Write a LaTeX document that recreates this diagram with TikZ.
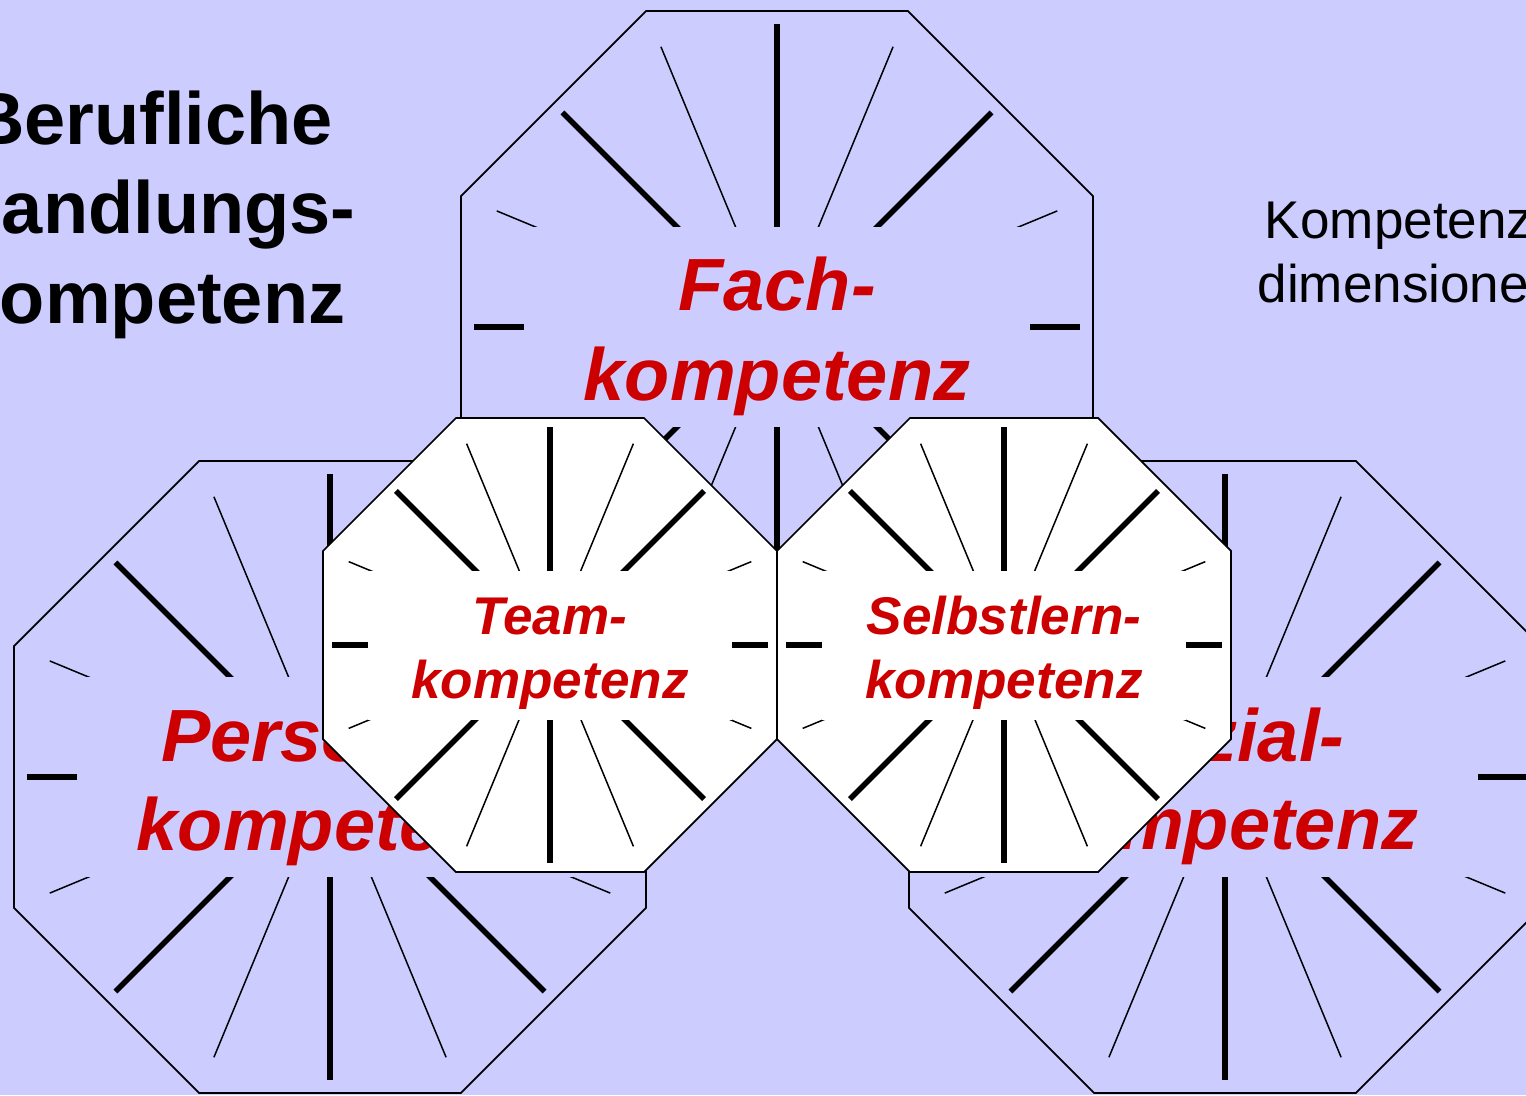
\documentclass[tikz,border=0pt]{standalone}
\usepackage{fontspec}
\setmainfont{Liberation Sans}
\definecolor{lavender}{HTML}{CCCCFF}
\definecolor{kompred}{HTML}{CC0000}

% octagon with rays: centre, apothem, fill, band width, band height
\newcommand{\rayoctagon}[5]{%
  \begin{scope}[shift={#1}]
    \filldraw[octline, fill=#3] (22.5:{1.0824*#2})
      \foreach \k in {1,...,7} { -- ({22.5+45*\k}:{1.0824*#2}) } -- cycle;
    \foreach \k in {0,...,15} {
      \ifodd\k
        \draw[thinray] (0,0) -- ({22.5*\k}:{0.96*#2});
      \else
        \draw[thickray] (0,0) -- ({22.5*\k}:{0.96*#2});
      \fi
    }
    \fill[#3] ({-#4/2},{-#5/2}) rectangle ({#4/2},{#5/2});
  \end{scope}}

\begin{document}
\begin{tikzpicture}[x=0.2mm,y=-0.2mm,
  octline/.style={draw=black, line width=0.35mm, line join=miter},
  thickray/.style={line width=1.1mm},
  thinray/.style={line width=0.3mm},
  biglbl/.style={anchor=base, inner sep=0, text=kompred,
    font=\bfseries\itshape\fontsize{42.1}{50}\selectfont},
  smalllbl/.style={anchor=base, inner sep=0, text=kompred,
    font=\bfseries\itshape\fontsize{30.2}{36}\selectfont}]
% background
\useasboundingbox (0,0) rectangle (1526,1095);
\clip (0,0) rectangle (1526,1095);
\fill[lavender] (0,0) rectangle (1526,1095);
% title
\node[anchor=base, inner sep=0, font=\bfseries\fontsize{42.1}{50}\selectfont] (beruf1) at (152,144) {Berufliche};
\node[anchor=base, inner sep=0, font=\bfseries\fontsize{42.1}{50}\selectfont] (beruf2) at (152,233) {Handlungs-};
\node[anchor=base, inner sep=0, font=\bfseries\fontsize{42.1}{50}\selectfont] (beruf3) at (152,323) {kompetenz};
\node[anchor=base, inner sep=0, font=\fontsize{30.2}{36}\selectfont] (dim1) at (1408,238) {Kompetenz-};
\node[anchor=base, inner sep=0, font=\fontsize{30.2}{36}\selectfont] (dim2) at (1408,302) {dimensionen};
% Fachkompetenz
\rayoctagon{(777,327)}{316}{lavender}{506}{200}
\node[biglbl] (fach1) at (777,310) {Fach-};
\node[biglbl] (fach2) at (777,400) {kompetenz};
% Personalkompetenz
\rayoctagon{(330,777)}{316}{lavender}{506}{200}
\node[biglbl] (pers1) at (330,761) {Personal-};
\node[biglbl] (pers2) at (330,850) {kompetenz};
% Sozialkompetenz
\rayoctagon{(1225,777)}{316}{lavender}{506}{200}
\node[biglbl] (sozial1) at (1225,761) {Sozial-};
\node[biglbl] (sozial2) at (1225,849) {kompetenz};
% Teamkompetenz
\rayoctagon{(550,645)}{227}{white}{364}{149}
\node[smalllbl] (team1) at (550,634.5) {Team-};
\node[smalllbl] (team2) at (550,698) {kompetenz};
% Selbstlernkompetenz
\rayoctagon{(1004,645)}{227}{white}{364}{149}
\node[smalllbl] (selbst1) at (1004,634.5) {Selbstlern-};
\node[smalllbl] (selbst2) at (1004,698) {kompetenz};
\end{tikzpicture}
\end{document}
